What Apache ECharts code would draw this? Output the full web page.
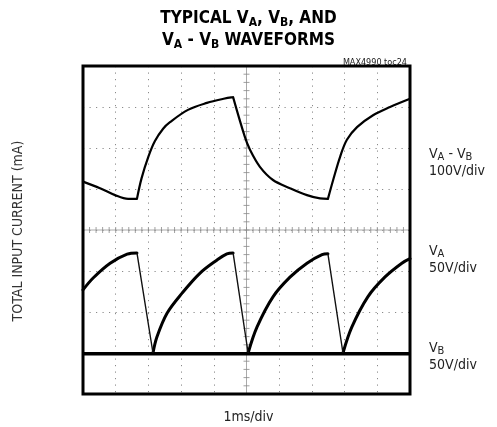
<!DOCTYPE html>
<html><head><meta charset="utf-8">
<script src="https://cdn.jsdelivr.net/npm/echarts@6/dist/echarts.min.js"></script>
<style>html,body{margin:0;padding:0;background:#fff}#c{width:497px;height:427px}</style>
</head><body><div id="c"></div>
<script>
// Data in screen divisions (x: 0..10 divisions of 1ms, y: 0..8 divisions)
const vaMinusVb = [[0,5.18],[0.52,5.02],[0.98,4.85],[1.38,4.76],[1.65,4.76],[1.79,5.26],[2.0,5.79],[2.2,6.17],[2.45,6.47],[2.66,6.63],[3.21,6.93],[3.79,7.10],[4.3,7.2],[4.59,7.24],[4.95,6.27],[5.11,5.95],[5.41,5.54],[5.81,5.22],[6.33,5.02],[6.85,4.85],[7.25,4.77],[7.49,4.76],[7.65,5.22],[7.86,5.78],[8.07,6.20],[8.38,6.51],[8.87,6.80],[9.39,7.0],[10,7.2]];
const va = [[0,2.54],[0.31,2.83],[0.83,3.19],[1.35,3.41],[1.65,3.44],[2.14,1.0],[2.26,1.39],[2.57,1.97],[3.03,2.46],[3.58,2.95],[4.10,3.27],[4.40,3.42],[4.59,3.44],[5.05,1.0],[5.32,1.63],[5.81,2.37],[6.33,2.85],[6.85,3.19],[7.31,3.40],[7.49,3.42],[7.95,1.0],[8.22,1.63],[8.71,2.37],[9.23,2.85],[9.75,3.19],[10,3.30]];
const vb = [[0,0.98],[10,0.98]];
const xDivs = 10, yDivs = 8;
const titleText = '{b|TYPICAL V}{s|A}{b|, V}{s|B}{b|, AND}\n{b|V}{s|A}{b| - V}{s|B}{b| WAVEFORMS}';
const partLabel = 'MAX4990 toc24';
const yTitle = 'TOTAL INPUT CURRENT (mA)';
const xTitle = '1ms/div';
const traceLabels = [
  {top:141, text:'{n|V}{s|A}{n| - V}{s|B}\n{n|100V/div}'},
  {top:238, text:'{n|V}{s|A}\n{n|50V/div}'},
  {top:335, text:'{n|V}{s|B}\n{n|50V/div}'}
];

// split a trace into monotone runs (separated by null), optionally sorting steep falls apart
function runs(arr, steepFallApart){
  const out = {main:[], fall:[]};
  let cur = [arr[0]], dir = 0, curFall = false;
  const flush = (isFall)=>{
    const t = isFall ? out.fall : out.main;
    if(t.length) t.push(null);
    cur.forEach(p=>t.push(p));
  };
  for(let i=1;i<arr.length;i++){
    const a=arr[i-1], b=arr[i];
    const d = Math.sign(b[1]-a[1]) || dir;
    const isFall = steepFallApart && (a[1]-b[1]) > 0.5;
    if(cur.length>1 && (d!==dir || isFall!==curFall)){
      flush(curFall);
      cur=[a];
    }
    dir=d; curFall=isFall;
    cur.push(b);
  }
  flush(curFall);
  return out;
}
const vaParts = runs(va, true);
const vdParts = runs(vaMinusVb, false);

// center graticule ticks (every 0.2 division)
const hTicks=[], vTicks=[];
for(let i=1;i<xDivs*5;i++) hTicks.push([i/5, yDivs/2]);
for(let i=1;i<yDivs*5;i++) vTicks.push([xDivs/2, i/5]);

const FN = '"Liberation Sans Narrow","DejaVu Sans Condensed","Arial Narrow",sans-serif';
const chart = echarts.init(document.getElementById('c'), null, {renderer:'canvas'});
const dotted = {color:'#8a8a8a', width:1, type:[1.2,5.3]};
chart.setOption({
  animation:false,
  backgroundColor:'#fff',
  title:[
    {text:titleText, left:'center', top:3, itemGap:0,
     textStyle:{rich:{
       b:{fontFamily:FN, fontWeight:'bold', fontSize:17, color:'#000', lineHeight:22},
       s:{fontFamily:FN, fontWeight:'bold', fontSize:12, color:'#000', padding:[7,0,0,0], lineHeight:22}
     }}},
    {text:partLabel, right:85, top:53, textStyle:{fontFamily:FN, fontWeight:'normal', fontSize:9, color:'#222'}},
    {text:xTitle, left:'center', top:405, textStyle:{fontFamily:FN, fontWeight:'normal', fontSize:14, color:'#222'}}
  ].concat(traceLabels.map(t=>({text:t.text, left:424, top:t.top, textStyle:{fontWeight:'normal', rich:{
       n:{fontFamily:FN, fontWeight:'normal', fontSize:14, color:'#222', lineHeight:17},
       s:{fontFamily:FN, fontWeight:'normal', fontSize:11, color:'#222', padding:[5,0,0,0], lineHeight:17}
     }}}))),
  graphic:[{type:'text', x:18, y:231, rotation:Math.PI/2,
    style:{text:yTitle, fill:'#333', font:'14px '+FN, align:'center', verticalAlign:'middle'}}],
  grid:{left:83, top:66, width:327, height:328, show:true, borderColor:'#000', borderWidth:3, backgroundColor:'transparent', z:10},
  xAxis:{type:'value', min:0, max:xDivs, interval:1, axisLine:{show:false}, axisTick:{show:false}, axisLabel:{show:false},
    splitLine:{show:true, lineStyle:dotted}},
  yAxis:{type:'value', min:0, max:yDivs, interval:1, axisLine:{show:false}, axisTick:{show:false}, axisLabel:{show:false},
    splitLine:{show:true, lineStyle:dotted}},
  series:[
    {type:'line', data:[[0,yDivs/2],[xDivs,yDivs/2]], symbol:'none', lineStyle:{color:'#aaa', width:1}, silent:true, z:1},
    {type:'line', data:[[xDivs/2,0],[xDivs/2,yDivs]], symbol:'none', lineStyle:{color:'#aaa', width:1}, silent:true, z:1},
    {type:'scatter', data:hTicks, symbol:'rect', symbolSize:[1,6], itemStyle:{color:'#888'}, silent:true, z:1},
    {type:'scatter', data:vTicks, symbol:'rect', symbolSize:[6,1], itemStyle:{color:'#888'}, silent:true, z:1},
    {type:'line', name:'VB', data:vb, symbol:'none', lineStyle:{color:'#000', width:3.5}, z:3},
    {type:'line', name:'VA rise', data:vaParts.main, symbol:'none', smooth:0.35, connectNulls:false, lineStyle:{color:'#000', width:3, cap:'round'}, z:3},
    {type:'line', name:'VA fall', data:vaParts.fall, symbol:'none', connectNulls:false, lineStyle:{color:'#111', width:1.4}, z:3},
    {type:'line', name:'VA-VB', data:vdParts.main, symbol:'none', smooth:0.35, connectNulls:false, lineStyle:{color:'#000', width:2.2, cap:'round', join:'round'}, z:3}
  ]
});
</script></body></html>
